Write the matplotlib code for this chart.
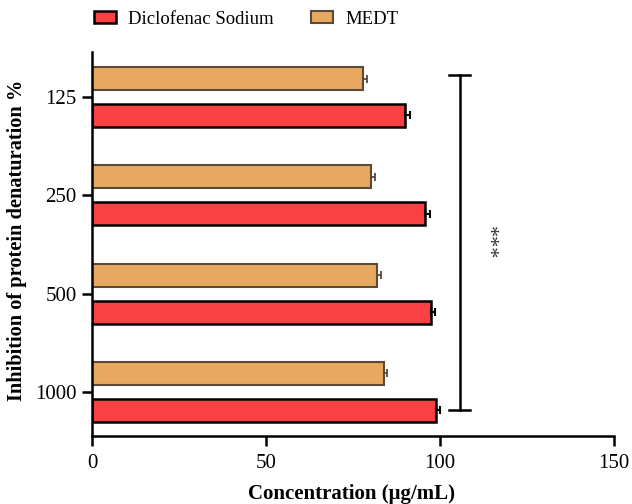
import numpy as np
import matplotlib.pyplot as plt

# données
concentrations = ['125', '250', '500', '1000']
diclofenac = np.array([89.9, 95.8, 97.4, 98.8])
diclofenac_err = np.array([1.4, 1.2, 1.1, 1.3])
medt = np.array([77.9, 80.2, 82.0, 83.9])
medt_err = np.array([1.2, 1.1, 1.0, 0.9])

plt.rcParams['font.family'] = ['Liberation Serif', 'DejaVu Serif']
plt.rcParams['font.size'] = 15

red = '#F94144'
tan = '#E8A862'
brown = '#5B4A38'

fig = plt.figure(figsize=(6.32, 5.04), dpi=100)
ax = fig.add_axes([0.1456, 0.1349, 0.826, 0.762])

pos = np.arange(len(concentrations))
h = 0.234
off = 0.188

ax.barh(pos - off, medt, height=h, color=tan, edgecolor=brown, linewidth=1.5,
        xerr=[np.zeros(4), medt_err], error_kw=dict(ecolor=brown, elinewidth=1.3, capsize=3, capthick=1.3),
        label='MEDT', zorder=2)
ax.barh(pos + off, diclofenac, height=h, color=red, edgecolor='black', linewidth=1.8,
        xerr=[np.zeros(4), diclofenac_err], error_kw=dict(ecolor='black', elinewidth=1.5, capsize=3, capthick=1.5),
        label='Diclofenac Sodium', zorder=2)

# barre de significativité
xb = 105.6
ytop, ybot = pos[0] - 0.227, pos[-1] + 0.183
ax.plot([xb, xb], [ytop, ybot], color='black', lw=1.8, clip_on=False)
ax.plot([xb - 3, xb + 3], [ytop, ytop], color='black', lw=1.8, clip_on=False)
ax.plot([xb - 3, xb + 3], [ybot, ybot], color='black', lw=1.8, clip_on=False)
ax.text(113.7, 1.48, '***', rotation=270, ha='center', va='center', color='#333333', fontsize=16)

ax.set_xlim(0, 150)
ax.set_ylim(3.448, -0.458)
ax.set_xticks([0, 50, 100, 150])
ax.set_yticks(pos)
ax.set_yticklabels(concentrations)

for s in ['top', 'right']:
    ax.spines[s].set_visible(False)
for s in ['left', 'bottom']:
    ax.spines[s].set_linewidth(1.8)
ax.tick_params(axis='both', width=1.8, length=7, labelsize=15)
ax.tick_params(axis='x', pad=6)
ax.tick_params(axis='y', pad=4)

ax.set_xlabel('Concentration (μg/mL)', fontweight='bold', fontsize=15)
ax.xaxis.set_label_coords(0.497, -0.125)
ax.set_ylabel('Inhibition of protein denaturation %', fontweight='bold', fontsize=14.7)
ax.yaxis.set_label_coords(-0.124, 0.51)

handles, labels = ax.get_legend_handles_labels()
fig.legend(handles[::-1], labels[::-1], loc='center left', bbox_to_anchor=(0.122, 0.962),
           ncol=2, frameon=False, handlelength=1.17, handleheight=0.6,
           handletextpad=0.64, columnspacing=2.0, fontsize=13.5)

plt.savefig('out.png', dpi=100)
